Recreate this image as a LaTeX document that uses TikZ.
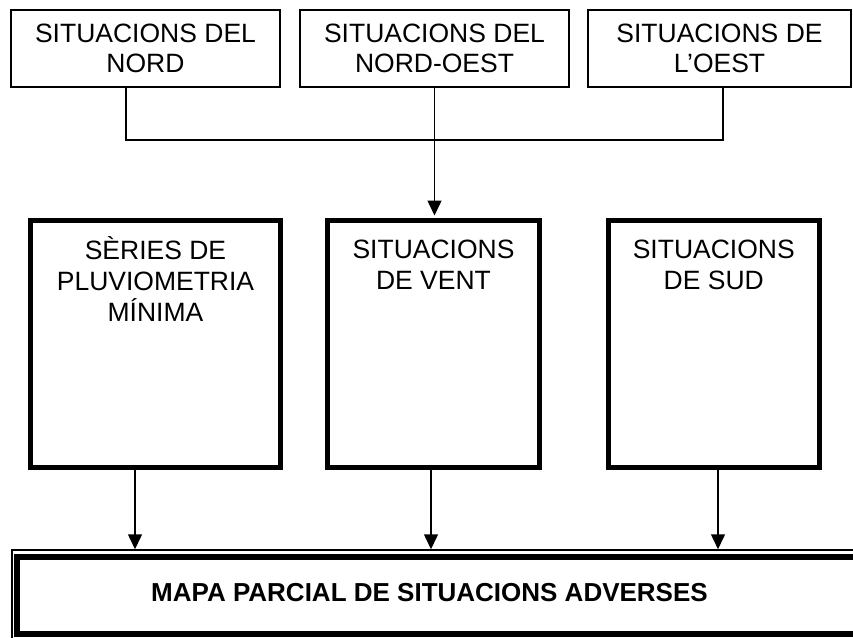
\documentclass[tikz,border=0pt]{standalone}
\usepackage{fontspec}
\setmainfont{Liberation Sans}
\usetikzlibrary{arrows.meta}

\tikzset{
	thinbox/.style={draw, line width=1.5pt, inner sep=0pt, align=center, minimum width=269pt, minimum height=77pt, font=\fontsize{26.5}{30}\selectfont, execute at begin node={\rule{0pt}{25pt}}},
	thickbox/.style={draw, line width=5pt, inner sep=0pt},
	boxtext/.style={anchor=north, align=center, inner sep=0pt, font=\fontsize{26.5}{31}\selectfont},
	link/.style={line width=1.5pt},
	arrow/.style={line width=1.5pt, -{Triangle[length=15pt,width=14pt]}},
}

\begin{document}
\begin{tikzpicture}[x=1pt,y=-1pt]
	\clip (0,0) rectangle (853,637);
	\fill[white] (0,0) rectangle (853,637);

	%top row
	\node[thinbox] (nord)     at (145.5,48.5) {SITUACIONS DEL\\NORD};
	\node[thinbox] (nordoest) at (434.5,48.5) {SITUACIONS DEL\\NORD-OEST};
	\node[thinbox, minimum width=263pt] (oest) at (719.5,48.5) {SITUACIONS DE\\L'OEST};

	%middle row
	\node[thickbox, minimum width=250pt, minimum height=246.5pt] (serie) at (155.5,343.75) {};
	\node[thickbox, minimum width=212pt, minimum height=246.5pt] (vent)  at (433.5,343.75) {};
	\node[thickbox, minimum width=211.5pt, minimum height=246.5pt] (sud) at (713.75,343.75) {};
	\node[boxtext] (serietext) at (155.5,236) {SÈRIES DE\\PLUVIOMETRIA\\MÍNIMA};
	\node[boxtext] (venttext)  at (433.5,240) {SITUACIONS\\DE VENT};
	\node[boxtext] (sudtext)   at (713.75,240) {SITUACIONS\\DE SUD};

	%bottom box
	\node[draw, line width=1.5pt, minimum width=858pt, minimum height=110pt] (marc) at (441,605) {};
	\node[draw, line width=6pt, minimum width=843pt, minimum height=77pt] (mapa) at (438.5,595.5) {};
	\node[font=\fontsize{26}{30}\selectfont\bfseries] (mapatext) at (429.5,593) {MAPA PARCIAL DE SITUACIONS ADVERSES};

	%connectors
	\coordinate (joinL) at (126,140);
	\coordinate (joinR) at (723,140);
	\draw[link] (nord.south -| joinL) -- (joinL) -- (joinR) -- (oest.south -| joinR);
	\draw[arrow, shorten >=2.5pt] (nordoest.south) -- (nordoest.south |- vent.north);

	\coordinate (dropA) at (135,0);
	\coordinate (dropB) at (431,0);
	\coordinate (dropC) at (718,0);
	\draw[arrow, shorten <=-2.5pt] (serie.south -| dropA) -- (marc.north -| dropA);
	\draw[arrow, shorten <=-2.5pt] (vent.south -| dropB) -- (marc.north -| dropB);
	\draw[arrow, shorten <=-2.5pt] (sud.south -| dropC) -- (marc.north -| dropC);
\end{tikzpicture}
\end{document}
